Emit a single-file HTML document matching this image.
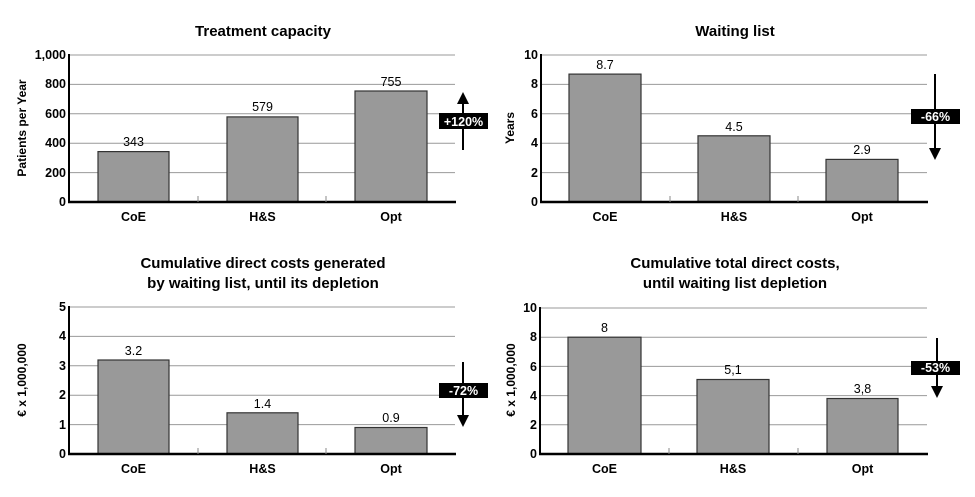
<!DOCTYPE html>
<html><head><meta charset="utf-8"><style>
html,body{margin:0;padding:0;background:#fff;}
svg{display:block;font-family:"Liberation Sans",Arial,sans-serif;}
.t{font-weight:bold;font-size:15px;text-anchor:middle;}
.yl{font-weight:bold;font-size:12.5px;text-anchor:end;}
.xl{font-weight:bold;font-size:12.5px;text-anchor:middle;}
.v{font-size:12.5px;text-anchor:middle;}
.ax{font-weight:bold;font-size:12px;text-anchor:middle;}
.g{stroke:#999;stroke-width:1;}
.b{fill:#999;stroke:#333;stroke-width:1.2;}
.bx{font-weight:bold;font-size:12.5px;fill:#fff;text-anchor:middle;}
</style></head><body>
<svg width="975" height="497" viewBox="0 0 975 497">
<!-- Panel 1 -->
<text class="t" x="263" y="36">Treatment capacity</text>
<g>
<line class="g" x1="69" x2="455" y1="55" y2="55"/><line class="g" x1="69" x2="455" y1="84.4" y2="84.4"/><line class="g" x1="69" x2="455" y1="113.8" y2="113.8"/><line class="g" x1="69" x2="455" y1="143.2" y2="143.2"/><line class="g" x1="69" x2="455" y1="172.6" y2="172.6"/>
<rect class="b" x="98" y="151.6" width="71" height="50.4"/>
<rect class="b" x="227" y="116.9" width="71" height="85.1"/>
<rect class="b" x="355" y="91" width="72" height="111"/>
<line x1="69" x2="69" y1="54" y2="203" stroke="#000" stroke-width="2"/>
<line x1="68" x2="456" y1="202" y2="202" stroke="#000" stroke-width="2.5"/>
<line x1="198" x2="198" y1="196" y2="202" stroke="#888"/><line x1="326" x2="326" y1="196" y2="202" stroke="#888"/>
<text class="yl" x="66" y="59">1,000</text><text class="yl" x="66" y="88">800</text><text class="yl" x="66" y="118">600</text><text class="yl" x="66" y="147">400</text><text class="yl" x="66" y="177">200</text><text class="yl" x="66" y="206">0</text>
<text class="ax" transform="translate(26,128) rotate(-90)">Patients per Year</text>
<text class="v" x="133.5" y="146">343</text><text class="v" x="262.5" y="111">579</text><text class="v" x="391" y="86">755</text>
<text class="xl" x="133.5" y="221">CoE</text><text class="xl" x="262.5" y="221">H&amp;S</text><text class="xl" x="391" y="221">Opt</text>
<line x1="463" x2="463" y1="102" y2="150" stroke="#000" stroke-width="2"/><polygon points="463,92 457,104 469,104" fill="#000"/>
<rect x="439" y="113" width="49" height="16" fill="#000"/><text class="bx" x="463.5" y="126">+120%</text>
</g>
<!-- Panel 2 -->
<text class="t" x="735" y="36">Waiting list</text>
<g>
<line class="g" x1="541" x2="927" y1="55" y2="55"/><line class="g" x1="541" x2="927" y1="84.4" y2="84.4"/><line class="g" x1="541" x2="927" y1="113.8" y2="113.8"/><line class="g" x1="541" x2="927" y1="143.2" y2="143.2"/><line class="g" x1="541" x2="927" y1="172.6" y2="172.6"/>
<rect class="b" x="569" y="74.1" width="72" height="127.9"/>
<rect class="b" x="698" y="135.8" width="72" height="66.2"/>
<rect class="b" x="826" y="159.4" width="72" height="42.6"/>
<line x1="541" x2="541" y1="54" y2="203" stroke="#000" stroke-width="2"/>
<line x1="540" x2="928" y1="202" y2="202" stroke="#000" stroke-width="2.5"/>
<line x1="670" x2="670" y1="196" y2="202" stroke="#888"/><line x1="798" x2="798" y1="196" y2="202" stroke="#888"/>
<text class="yl" x="538" y="59">10</text><text class="yl" x="538" y="88">8</text><text class="yl" x="538" y="118">6</text><text class="yl" x="538" y="147">4</text><text class="yl" x="538" y="177">2</text><text class="yl" x="538" y="206">0</text>
<text class="ax" transform="translate(514,128) rotate(-90)">Years</text>
<text class="v" x="605" y="69">8.7</text><text class="v" x="734" y="131">4.5</text><text class="v" x="862" y="154">2.9</text>
<text class="xl" x="605" y="221">CoE</text><text class="xl" x="734" y="221">H&amp;S</text><text class="xl" x="862" y="221">Opt</text>
<line x1="935" x2="935" y1="74" y2="150" stroke="#000" stroke-width="2"/><polygon points="935,160 929,148 941,148" fill="#000"/>
<rect x="911" y="109" width="49" height="15" fill="#000"/><text class="bx" x="935.5" y="121">-66%</text>
</g>
<!-- Panel 3 -->
<text class="t" x="263" y="268">Cumulative direct costs generated</text>
<text class="t" x="263" y="288">by waiting list, until its depletion</text>
<g>
<line class="g" x1="69" x2="455" y1="307" y2="307"/><line class="g" x1="69" x2="455" y1="336.4" y2="336.4"/><line class="g" x1="69" x2="455" y1="365.8" y2="365.8"/><line class="g" x1="69" x2="455" y1="395.2" y2="395.2"/><line class="g" x1="69" x2="455" y1="424.6" y2="424.6"/>
<rect class="b" x="98" y="360" width="71" height="94"/>
<rect class="b" x="227" y="412.8" width="71" height="41.2"/>
<rect class="b" x="355" y="427.5" width="72" height="26.5"/>
<line x1="69" x2="69" y1="306" y2="455" stroke="#000" stroke-width="2"/>
<line x1="68" x2="456" y1="454" y2="454" stroke="#000" stroke-width="2.5"/>
<line x1="198" x2="198" y1="448" y2="454" stroke="#888"/><line x1="326" x2="326" y1="448" y2="454" stroke="#888"/>
<text class="yl" x="66" y="311">5</text><text class="yl" x="66" y="340">4</text><text class="yl" x="66" y="370">3</text><text class="yl" x="66" y="399">2</text><text class="yl" x="66" y="429">1</text><text class="yl" x="66" y="458">0</text>
<text class="ax" transform="translate(26,380) rotate(-90)">€ x 1,000,000</text>
<text class="v" x="133.5" y="355">3.2</text><text class="v" x="262.5" y="408">1.4</text><text class="v" x="391" y="422">0.9</text>
<text class="xl" x="133.5" y="473">CoE</text><text class="xl" x="262.5" y="473">H&amp;S</text><text class="xl" x="391" y="473">Opt</text>
<line x1="463" x2="463" y1="362" y2="417" stroke="#000" stroke-width="2"/><polygon points="463,427 457,415 469,415" fill="#000"/>
<rect x="439" y="383" width="49" height="15" fill="#000"/><text class="bx" x="463.5" y="395">-72%</text>
</g>
<!-- Panel 4 -->
<text class="t" x="735" y="268">Cumulative total direct costs,</text>
<text class="t" x="735" y="288">until waiting list depletion</text>
<g>
<line class="g" x1="540" x2="927" y1="308" y2="308"/><line class="g" x1="540" x2="927" y1="337.2" y2="337.2"/><line class="g" x1="540" x2="927" y1="366.4" y2="366.4"/><line class="g" x1="540" x2="927" y1="395.6" y2="395.6"/><line class="g" x1="540" x2="927" y1="424.8" y2="424.8"/>
<rect class="b" x="568" y="337.2" width="73" height="116.8"/>
<rect class="b" x="697" y="379.5" width="72" height="74.5"/>
<rect class="b" x="827" y="398.5" width="71" height="55.5"/>
<line x1="540" x2="540" y1="307" y2="455" stroke="#000" stroke-width="2"/>
<line x1="539" x2="928" y1="454" y2="454" stroke="#000" stroke-width="2.5"/>
<line x1="669" x2="669" y1="448" y2="454" stroke="#888"/><line x1="798" x2="798" y1="448" y2="454" stroke="#888"/>
<text class="yl" x="537" y="312">10</text><text class="yl" x="537" y="341">8</text><text class="yl" x="537" y="371">6</text><text class="yl" x="537" y="400">4</text><text class="yl" x="537" y="429">2</text><text class="yl" x="537" y="458">0</text>
<text class="ax" transform="translate(515,380) rotate(-90)">€ x 1,000,000</text>
<text class="v" x="604.5" y="332">8</text><text class="v" x="733" y="374">5,1</text><text class="v" x="862.5" y="393">3,8</text>
<text class="xl" x="604.5" y="473">CoE</text><text class="xl" x="733" y="473">H&amp;S</text><text class="xl" x="862.5" y="473">Opt</text>
<line x1="937" x2="937" y1="338" y2="388" stroke="#000" stroke-width="2"/><polygon points="937,398 931,386 943,386" fill="#000"/>
<rect x="911" y="361" width="49" height="14" fill="#000"/><text class="bx" x="935.5" y="372">-53%</text>
</g>
</svg>
</body></html>
